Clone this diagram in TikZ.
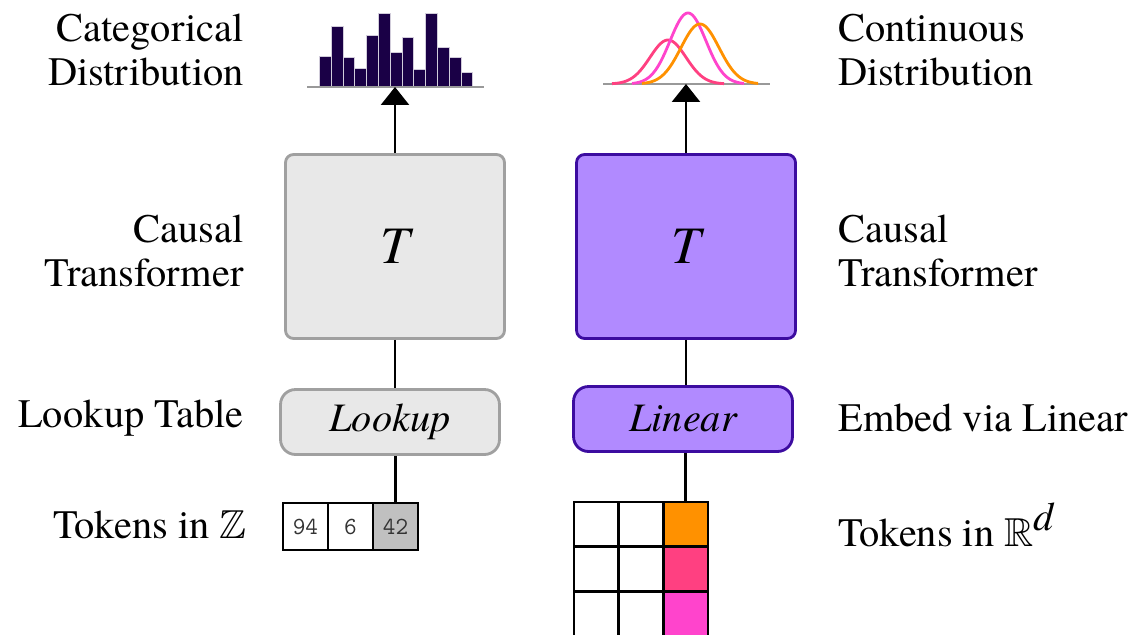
\documentclass[tikz,border=0pt]{standalone}
\usepackage{amssymb}
\usepackage{fontspec}
\setmainfont{TeX Gyre Termes}
\usetikzlibrary{arrows.meta}

\definecolor{boxgray}{RGB}{232,232,232}
\definecolor{edgegray}{RGB}{160,160,160}
\definecolor{lilac}{RGB}{177,138,255}
\definecolor{indigo}{RGB}{60,12,160}
\definecolor{bardark}{RGB}{26,0,70}
\definecolor{tokorange}{RGB}{255,145,0}
\definecolor{tokpink}{RGB}{255,64,129}
\definecolor{tokmagenta}{RGB}{255,68,204}
\definecolor{tokgray}{RGB}{192,192,192}

\tikzset{
  lbl/.style={inner sep=0pt, font=\fontsize{23}{25}\selectfont},
  tbox/.style={rounded corners=0.16cm, line width=1.6pt, minimum width=4.38cm, minimum height=3.68cm, font=\fontsize{30}{30}\selectfont\itshape},
  ebox/.style={rounded corners=0.3cm, line width=1.6pt, minimum width=4.38cm, minimum height=1.3cm, font=\fontsize{23}{25}\selectfont\itshape},
  grayish/.style={fill=boxgray, draw=edgegray},
  purplish/.style={fill=lilac, draw=indigo},
  cell/.style={draw, line width=1.5pt, minimum width=0.9cm, minimum height=0.94cm, inner sep=0pt, text=black!80, font=\fontsize{14}{14}\selectfont\ttfamily},
  gcell/.style={draw, line width=1.5pt, minimum size=0.894cm, inner sep=0pt},
  link/.style={line width=1.5pt},
  arr/.style={line width=1.5pt, -{Triangle[length=0.36cm, width=0.56cm]}},
  axis/.style={draw=gray!80, line width=1.2pt},
  bar/.style={fill=bardark, draw=white!80!bardark, line width=0.4pt},
  curve/.style={line width=1.6pt},
}

\begin{document}
\begin{tikzpicture}[x=0.02cm, y=-0.02cm]
\useasboundingbox (0,0) rectangle (1135,635);

% left column: categorical
\coordinate (histL) at (307,87);
\coordinate (histR) at (484,87);
\foreach \h [count=\i from 0] in {30,60,29,18,51,73,34,49,17,73,39,29,14}
  \draw[bar] ({319.3+\i*11.8},86) rectangle ++(11.8,-\h);
\draw[axis] (histL) -- (histR);

\node[tbox, grayish] (tleft) at (395,246.5) {T};
\node[ebox, grayish] (lookup) at (390,422) {Lookup};
\node[cell] (tok1) at (305.5,526.5) {94};
\node[cell] (tok2) at (350.5,526.5) {6};
\node[cell, fill=tokgray] (tok3) at (395.5,526.5) {42};

\draw[arr] (tleft.north) -- (tleft.north |- histL);
\draw[link] (tleft.south) -- (tleft.south |- lookup.north);
\draw[link] (tok3.north |- lookup.south) -- (tok3.north);

% right column: continuous
\coordinate (gaussL) at (603,84);
\coordinate (gaussR) at (770,84);
\draw[axis] (gaussL) -- (gaussR);
\draw[curve, tokpink] plot[domain=612:724, samples=80, smooth]
  (\x, {84-44*exp(-0.5*((\x-668)/18)*((\x-668)/18))});
\draw[curve, tokmagenta] plot[domain=632:744, samples=80, smooth]
  (\x, {84-71*exp(-0.5*((\x-688)/18)*((\x-688)/18))});
\draw[curve, tokorange] plot[domain=642:758, samples=80, smooth]
  (\x, {84-60*exp(-0.5*((\x-700)/19)*((\x-700)/19))});

\node[tbox, purplish] (tright) at (686,246.5) {T};
\node[ebox, purplish] (linear) at (683,419) {Linear};
\foreach \r in {0,1,2}
  \foreach \c in {0,1}
    \node[gcell] (g\r\c) at ({596.3+\c*44.7},{524.3+\r*44.7}) {};
\foreach \r/\col in {0/tokorange,1/tokpink,2/tokmagenta}
  \node[gcell, fill=\col] (g\r2) at (685.7,{524.3+\r*44.7}) {};

\draw[arr] (tright.north) -- (tright.north |- gaussL);
\draw[link] (tright.south) -- (tright.south |- linear.north);
\draw[link] (g02.north |- linear.south) -- (g02.north);

% labels
\node[lbl, anchor=east, align=right] (catlbl) at (244,50) {Categorical\\Distribution};
\node[lbl, anchor=east, align=right] (tfleft) at (244,251) {Causal\\Transformer};
\node[lbl, anchor=east] (looklbl) at (244,418) {Lookup Table};
\node[lbl, anchor=east] (intlbl) at (247,525) {Tokens in $\mathbb{Z}$};
\node[lbl, anchor=west, align=left] (contlbl) at (838,50) {Continuous\\Distribution};
\node[lbl, anchor=west, align=left] (tfright) at (838,251) {Causal\\Transformer};
\node[lbl, anchor=west] (linlbl) at (838,418) {Embed via Linear};
\node[lbl, anchor=west] (reallbl) at (838,525) {Tokens in $\mathbb{R}^{\textit{d}}$};
\end{tikzpicture}
\end{document}
